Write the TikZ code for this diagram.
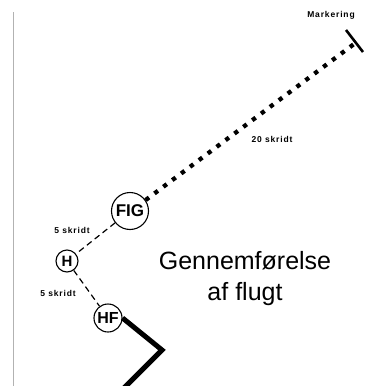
\documentclass[tikz,border=0pt]{standalone}
\usepackage{fontspec}
\setmainfont{Liberation Sans}
\newfontfamily\lblfont[LetterSpace=10]{Liberation Sans Bold}
\newfontfamily\circfont{Liberation Sans Bold}
\begin{document}
\begin{tikzpicture}[x=1pt,y=-1pt,
  circ/.style={draw,circle,line width=1.1pt,inner sep=0pt,font=\circfont},
  lbl/.style={font=\lblfont\fontsize{8.5}{9}\selectfont,inner sep=0pt},
  dashline/.style={line width=1.2pt,dash pattern=on 6pt off 4pt},
  dotline/.style={line width=4.3pt,dash pattern=on 4.3pt off 6.8pt},
  thick path/.style={line width=5pt}]
\useasboundingbox (0,0) rectangle (365,386);
\draw[gray!60,line width=1.2pt] (13.5,12) -- (13.5,386);
\node[circ,minimum size=37pt,font=\circfont\fontsize{17}{17}\selectfont] (fig) at (130,211) {FIG};
\node[circ,minimum size=22pt,font=\circfont\fontsize{15}{15}\selectfont] (h) at (67,261) {H};
\node[circ,minimum size=28pt,font=\circfont\fontsize{16}{16}\selectfont] (hf) at (108,318) {HF};
\coordinate (mk) at (354,44);
\coordinate (t1) at (346,30);
\coordinate (t2) at (363,52);
\draw[dotline] (fig.35) -- (mk);
\draw[line width=2.6pt] (t1) -- (t2);
\draw[dashline] (fig) -- (h);
\draw[dashline] (h) -- (hf);
\coordinate (c1) at (162,350);
\coordinate (c2) at (124,388);
\draw[thick path,line join=miter] (hf.east) -- (c1) -- (c2);
\node[lbl] (mlab) at (331,15) {Markering};
\node[lbl] (l20) at (272,139) {20 skridt};
\node[lbl] (l5a) at (72,230) {5 skridt};
\node[lbl] (l5b) at (58,293) {5 skridt};
\node[font=\fontsize{25}{31}\selectfont,align=center,inner sep=0pt] (title) at (245,279) {Gennemførelse\\af flugt};
\end{tikzpicture}
\end{document}
